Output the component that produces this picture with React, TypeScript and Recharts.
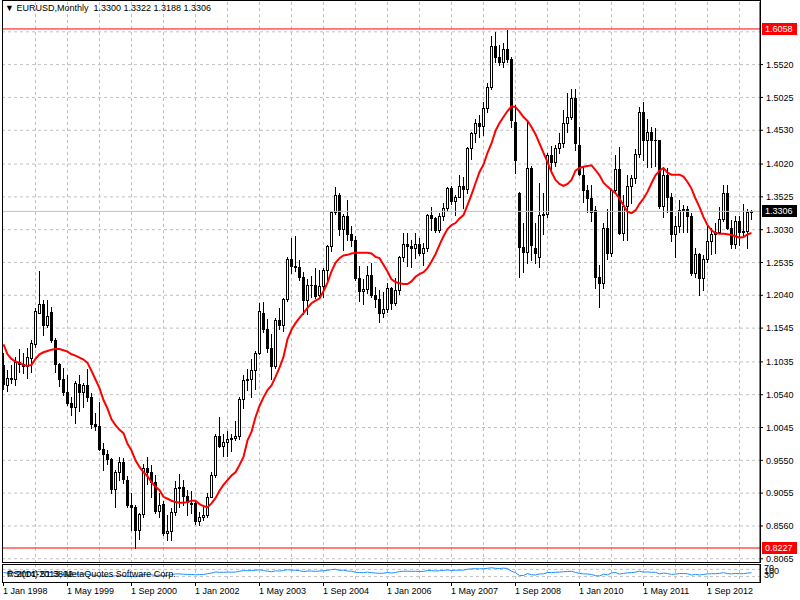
import React from 'react';
import { ComposedChart, LineChart, Bar, Line, XAxis, YAxis, CartesianGrid, ReferenceLine } from 'recharts';

const FONT = '"Liberation Sans", Arial, sans-serif';

// EURUSD monthly, Jan 1998 .. Aug 2013 (one entry per month)
const opens = [
  1.0990, 1.0680, 1.0790, 1.0770, 1.1030, 1.1000, 1.0980, 1.1100, 1.1300, 1.1780, 1.1910, 1.1590,
  1.1790, 1.1370, 1.1000, 1.0770, 1.0580, 1.0420, 1.0350, 1.0700, 1.0580, 1.0690, 1.0510, 1.0100,
  1.0070, 0.9720, 0.9640, 0.9570, 0.9120, 0.9370, 0.9520, 0.9260, 0.8880, 0.8840, 0.8500, 0.8740,
  0.9430, 0.9370, 0.9220, 0.8780, 0.8890, 0.8460, 0.8490, 0.8770, 0.9130, 0.9150, 0.9010, 0.8890,
  0.8910, 0.8630, 0.8700, 0.8720, 0.9000, 0.9330, 0.9920, 0.9770, 0.9820, 0.9870, 0.9890, 0.9920,
  1.0480, 1.0760, 1.0780, 1.0910, 1.1170, 1.1780, 1.1530, 1.1240, 1.0970, 1.1660, 1.1590, 1.1990,
  1.2590, 1.2480, 1.2460, 1.2310, 1.1970, 1.2200, 1.2190, 1.2040, 1.2180, 1.2420, 1.2780, 1.3290,
  1.3560, 1.3040, 1.3240, 1.2960, 1.2870, 1.2300, 1.2100, 1.2130, 1.2340, 1.2040, 1.1990, 1.1780,
  1.1840, 1.2150, 1.1920, 1.2120, 1.2620, 1.2820, 1.2790, 1.2760, 1.2820, 1.2680, 1.2760, 1.3250,
  1.3200, 1.3020, 1.3230, 1.3360, 1.3660, 1.3460, 1.3530, 1.3690, 1.3640, 1.4260, 1.4490, 1.4640,
  1.4600, 1.4870, 1.5180, 1.5800, 1.5640, 1.5560, 1.5760, 1.5610, 1.4650, 1.3580, 1.2770, 1.2690,
  1.3960, 1.2750, 1.2620, 1.3250, 1.3270, 1.4150, 1.4050, 1.4260, 1.4340, 1.4640, 1.4730, 1.5020,
  1.4310, 1.3860, 1.3630, 1.3510, 1.3330, 1.2320, 1.2230, 1.3060, 1.2680, 1.3630, 1.3940, 1.2980,
  1.3380, 1.3690, 1.3810, 1.4170, 1.4810, 1.4390, 1.4500, 1.4390, 1.4380, 1.3390, 1.3860, 1.3520,
  1.2960, 1.3080, 1.3330, 1.3340, 1.3240, 1.2370, 1.2660, 1.2300, 1.2580, 1.2860, 1.2960, 1.2990,
  1.3190, 1.3580, 1.3060, 1.2820, 1.3160, 1.2990, 1.3010, 1.3300,
];
const highs = [
  1.1170, 1.0920, 1.0990, 1.1110, 1.1230, 1.1170, 1.1240, 1.1370, 1.1850, 1.2410, 1.1970, 1.1970,
  1.1860, 1.1400, 1.1020, 1.0940, 1.0840, 1.0500, 1.0750, 1.0840, 1.0720, 1.0930, 1.0570, 1.0270,
  1.0430, 0.9810, 0.9710, 0.9580, 0.9400, 0.9600, 0.9580, 0.9310, 0.9060, 0.8870, 0.8760, 0.9500,
  0.9600, 0.9480, 0.9330, 0.9050, 0.8940, 0.8730, 0.8830, 0.9240, 0.9340, 0.9250, 0.9100, 0.9080,
  0.8950, 0.8770, 0.8840, 0.9050, 0.9370, 0.9950, 1.0200, 0.9950, 1.0000, 0.9950, 1.0150, 1.0500,
  1.0830, 1.0930, 1.1080, 1.1200, 1.1930, 1.1940, 1.1680, 1.1450, 1.1700, 1.1850, 1.2000, 1.2620,
  1.2900, 1.2930, 1.2570, 1.2390, 1.2280, 1.2330, 1.2450, 1.2420, 1.2450, 1.2800, 1.3310, 1.3670,
  1.3590, 1.3260, 1.3480, 1.3090, 1.2940, 1.2480, 1.2290, 1.2480, 1.2530, 1.2170, 1.2120, 1.2090,
  1.2230, 1.2170, 1.2300, 1.2640, 1.2980, 1.2980, 1.2880, 1.2980, 1.2900, 1.2830, 1.3270, 1.3370,
  1.3220, 1.3280, 1.3430, 1.3680, 1.3690, 1.3550, 1.3850, 1.3830, 1.4280, 1.4500, 1.4700, 1.4760,
  1.4960, 1.5240, 1.5950, 1.6010, 1.5820, 1.5850, 1.6040, 1.5640, 1.4910, 1.3600, 1.3130, 1.4680,
  1.3990, 1.3130, 1.3740, 1.3590, 1.4180, 1.4290, 1.4310, 1.4490, 1.4840, 1.5090, 1.5150, 1.5150,
  1.4580, 1.3980, 1.3700, 1.3700, 1.3380, 1.2500, 1.3130, 1.3340, 1.3650, 1.4160, 1.4280, 1.3550,
  1.3860, 1.3860, 1.4250, 1.4880, 1.4960, 1.4700, 1.4580, 1.4560, 1.4390, 1.3960, 1.3960, 1.3580,
  1.3240, 1.3480, 1.3400, 1.3380, 1.3280, 1.2750, 1.2680, 1.2650, 1.3100, 1.3050, 1.3130, 1.3370,
  1.3700, 1.3710, 1.3170, 1.3240, 1.3240, 1.3420, 1.3340, 1.3322,
];
const lows = [
  1.0620, 1.0600, 1.0720, 1.0690, 1.0880, 1.0870, 1.0790, 1.0880, 1.1260, 1.1770, 1.1440, 1.1560,
  1.1330, 1.0880, 1.0670, 1.0540, 1.0380, 1.0240, 1.0110, 1.0290, 1.0350, 1.0440, 1.0040, 1.0010,
  0.9700, 0.9400, 0.9500, 0.9060, 0.8850, 0.9250, 0.9210, 0.8840, 0.8500, 0.8227, 0.8360, 0.8690,
  0.9200, 0.9000, 0.8750, 0.8700, 0.8420, 0.8350, 0.8350, 0.8720, 0.8850, 0.8880, 0.8730, 0.8760,
  0.8590, 0.8580, 0.8650, 0.8700, 0.8990, 0.9300, 0.9750, 0.9610, 0.9610, 0.9690, 0.9850, 0.9870,
  1.0340, 1.0610, 1.0500, 1.0620, 1.1150, 1.1490, 1.1180, 1.0770, 1.0950, 1.1530, 1.1500, 1.1960,
  1.2380, 1.2400, 1.2270, 1.1760, 1.1760, 1.2010, 1.2000, 1.2010, 1.2010, 1.2220, 1.2710, 1.3270,
  1.2950, 1.2730, 1.2880, 1.2780, 1.2270, 1.1950, 1.1910, 1.2080, 1.2010, 1.1870, 1.1640, 1.1710,
  1.1790, 1.1830, 1.1890, 1.2060, 1.2560, 1.2480, 1.2470, 1.2600, 1.2650, 1.2500, 1.2710, 1.3020,
  1.2990, 1.3000, 1.3170, 1.3310, 1.3410, 1.3250, 1.3520, 1.3350, 1.3590, 1.4100, 1.4360, 1.4430,
  1.4460, 1.4800, 1.5150, 1.5560, 1.5510, 1.5480, 1.5560, 1.4580, 1.3890, 1.2320, 1.2390, 1.2530,
  1.2570, 1.2530, 1.2460, 1.2960, 1.3220, 1.3880, 1.3990, 1.4190, 1.4280, 1.4500, 1.4700, 1.4230,
  1.3860, 1.3450, 1.3300, 1.3160, 1.2150, 1.1860, 1.2150, 1.2590, 1.2640, 1.3600, 1.2960, 1.2870,
  1.2870, 1.3430, 1.3740, 1.4130, 1.4080, 1.3980, 1.3970, 1.3990, 1.3360, 1.3220, 1.3300, 1.2860,
  1.2620, 1.2990, 1.2990, 1.3000, 1.2350, 1.2320, 1.2040, 1.2120, 1.2540, 1.2660, 1.2680, 1.2980,
  1.3160, 1.3040, 1.2750, 1.2750, 1.2800, 1.2950, 1.2760, 1.3188,
];
const closes = [
  1.0700, 1.0790, 1.0770, 1.1030, 1.1000, 1.0980, 1.1110, 1.1320, 1.1800, 1.1910, 1.1590, 1.1730,
  1.1370, 1.1000, 1.0770, 1.0580, 1.0420, 1.0350, 1.0720, 1.0580, 1.0690, 1.0510, 1.0100, 1.0070,
  0.9720, 0.9640, 0.9570, 0.9120, 0.9370, 0.9520, 0.9270, 0.8880, 0.8840, 0.8500, 0.8740, 0.9430,
  0.9370, 0.9220, 0.8780, 0.8880, 0.8460, 0.8490, 0.8770, 0.9130, 0.9150, 0.9010, 0.8920, 0.8910,
  0.8630, 0.8700, 0.8720, 0.9000, 0.9330, 0.9920, 0.9770, 0.9820, 0.9870, 0.9890, 0.9920, 1.0480,
  1.0760, 1.0780, 1.0910, 1.1170, 1.1800, 1.1530, 1.1240, 1.0970, 1.1660, 1.1590, 1.1990, 1.2590,
  1.2480, 1.2460, 1.2310, 1.1970, 1.2200, 1.2190, 1.2030, 1.2180, 1.2420, 1.2780, 1.3290, 1.3560,
  1.3040, 1.3240, 1.2960, 1.2870, 1.2300, 1.2100, 1.2130, 1.2340, 1.2040, 1.1990, 1.1780, 1.1840,
  1.2150, 1.1920, 1.2120, 1.2620, 1.2820, 1.2790, 1.2760, 1.2820, 1.2680, 1.2760, 1.3250, 1.3200,
  1.3020, 1.3230, 1.3360, 1.3660, 1.3460, 1.3530, 1.3690, 1.3640, 1.4260, 1.4490, 1.4640, 1.4600,
  1.4870, 1.5180, 1.5800, 1.5640, 1.5560, 1.5760, 1.5610, 1.4680, 1.4080, 1.2770, 1.2690, 1.3960,
  1.2800, 1.2680, 1.3250, 1.3270, 1.4150, 1.4050, 1.4260, 1.4340, 1.4640, 1.4730, 1.5020, 1.4340,
  1.3870, 1.3630, 1.3510, 1.3290, 1.2320, 1.2230, 1.3060, 1.2680, 1.3630, 1.3940, 1.2980, 1.3380,
  1.3690, 1.3810, 1.4170, 1.4810, 1.4390, 1.4500, 1.4390, 1.4380, 1.3390, 1.3860, 1.3520, 1.2960,
  1.3080, 1.3330, 1.3340, 1.3240, 1.2370, 1.2660, 1.2300, 1.2580, 1.2860, 1.2960, 1.2990, 1.3190,
  1.3580, 1.3060, 1.2820, 1.3160, 1.2990, 1.3010, 1.3300, 1.3306,
];
// Moving average (red line)
const maValues = [
  1.1300, 1.1150, 1.1080, 1.1040, 1.1020, 1.0990, 1.0975, 1.0990, 1.1080, 1.1150, 1.1180, 1.1200,
  1.1220, 1.1230, 1.1230, 1.1210, 1.1190, 1.1150, 1.1130, 1.1100, 1.1070, 1.1020, 1.0900, 1.0770,
  1.0640, 1.0460, 1.0330, 1.0170, 1.0080, 1.0010, 0.9960, 0.9800, 0.9700, 0.9550, 0.9450, 0.9370,
  0.9310, 0.9220, 0.9150, 0.9100, 0.9000, 0.8970, 0.8940, 0.8920, 0.8910, 0.8910, 0.8920, 0.8940,
  0.8940, 0.8890, 0.8860, 0.8840, 0.8900, 0.8980, 0.9090, 0.9180, 0.9250, 0.9320, 0.9370, 0.9480,
  0.9600, 0.9850, 0.9980, 1.0200, 1.0370, 1.0500, 1.0610, 1.0680, 1.0810, 1.0950, 1.1110, 1.1380,
  1.1520, 1.1620, 1.1700, 1.1770, 1.1850, 1.1920, 1.1960, 1.1990, 1.2100, 1.2230, 1.2400, 1.2530,
  1.2600, 1.2640, 1.2650, 1.2670, 1.2680, 1.2680, 1.2680, 1.2680, 1.2670, 1.2620, 1.2600, 1.2500,
  1.2400, 1.2280, 1.2240, 1.2220, 1.2210, 1.2210, 1.2250, 1.2320, 1.2360, 1.2390, 1.2450, 1.2550,
  1.2660, 1.2800, 1.2930, 1.3040, 1.3100, 1.3130, 1.3200, 1.3250, 1.3400, 1.3560, 1.3730, 1.3900,
  1.4010, 1.4190, 1.4330, 1.4520, 1.4640, 1.4730, 1.4820, 1.4890, 1.4880, 1.4810, 1.4730, 1.4670,
  1.4580, 1.4470, 1.4330, 1.4190, 1.4050, 1.3900, 1.3780, 1.3720, 1.3690, 1.3720, 1.3780, 1.3920,
  1.3960, 1.3980, 1.3990, 1.4000, 1.3930, 1.3850, 1.3740, 1.3680, 1.3630, 1.3580, 1.3500, 1.3400,
  1.3300, 1.3280, 1.3320, 1.3420, 1.3500, 1.3600, 1.3730, 1.3850, 1.3920, 1.3960, 1.3890, 1.3860,
  1.3860, 1.3860, 1.3830, 1.3750, 1.3650, 1.3500, 1.3370, 1.3220, 1.3100, 1.3020, 1.2980, 1.2970,
  1.2970, 1.2960, 1.2950, 1.2930, 1.2910, 1.2920, 1.2960, 1.2980,
];
// RSI(14) (blue line in the lower window)
const rsiValues = [
  52, 50, 50, 52, 51, 51, 52, 53, 57, 58, 55, 56,
  52, 47, 44, 42, 40, 40, 45, 43, 45, 43, 38, 37,
  34, 33, 33, 31, 35, 37, 34, 31, 31, 29, 33, 42,
  41, 40, 36, 39, 35, 37, 41, 45, 45, 43, 42, 42,
  40, 41, 42, 46, 50, 56, 54, 54, 55, 55, 55, 60,
  63, 63, 64, 65, 68, 64, 60, 57, 62, 61, 64, 68,
  66, 65, 63, 58, 61, 61, 59, 61, 62, 65, 69, 71,
  64, 66, 61, 60, 54, 52, 52, 55, 52, 50, 48, 49,
  53, 50, 53, 58, 60, 60, 59, 60, 58, 59, 64, 63,
  61, 63, 64, 67, 64, 65, 66, 66, 71, 73, 74, 73,
  74, 76, 79, 76, 75, 77, 75, 60, 52, 36, 36, 47,
  40, 39, 45, 45, 53, 52, 54, 55, 57, 58, 60, 53,
  48, 45, 44, 42, 35, 34, 43, 40, 50, 53, 44, 48,
  51, 52, 55, 60, 55, 56, 54, 54, 45, 50, 47, 42,
  44, 47, 47, 46, 39, 42, 39, 42, 45, 46, 46, 48,
  52, 47, 45, 48, 46, 46, 50, 51.38,
];

const priceTicks = [1.552, 1.5025, 1.453, 1.402, 1.3525, 1.303, 1.2535, 1.204, 1.1545, 1.1035, 1.054, 1.0045, 0.955, 0.9055, 0.856, 0.8065];
const gridPrices = [1.6015, ...priceTicks];
const xTickBars = [0, 16, 32, 48, 64, 80, 96, 112, 128, 144, 160, 176];
const xTickLabels = ['1 Jan 1998', '1 May 1999', '1 Sep 2000', '1 Jan 2002', '1 May 2003', '1 Sep 2004', '1 Jan 2006', '1 May 2007', '1 Sep 2008', '1 Jan 2010', '1 May 2011', '1 Sep 2012'];
const gridBars = [8, 16, 24, 32, 40, 48, 56, 64, 72, 80, 88, 96, 104, 112, 120, 128, 136, 144, 152, 160, 168, 176, 184];
const rsiLevels = [70, 30];
const rsiTickValues = [100, 70, 30];
const highLine = 1.6058;
const lowLine = 0.8227;
const lastPrice = 1.3306;

const X_DOMAIN: [number, number] = [-0.375, 189.125];
const Y_DOMAIN: [number, number] = [0.8016, 1.6465];

const data = opens.map((o, i) => ({
  i,
  o,
  h: highs[i],
  l: lows[i],
  c: closes[i],
  range: [lows[i], highs[i]],
  ma: maValues[i],
  rsi: rsiValues[i],
}));

const Candle = (props: any) => {
  const { x, y, width, height, payload } = props;
  if (x == null || y == null || !payload) return null;
  const top = Math.min(y, y + height);
  const hgt = Math.abs(height);
  const cx = Math.round(x + width / 2 - 0.5) + 0.5;
  const span = payload.h - payload.l;
  const py = (v: number) => (span > 0 ? top + ((payload.h - v) / span) * hgt : top);
  const yo = py(payload.o);
  const yc = py(payload.c);
  const bTop = Math.round(Math.min(yo, yc)) + 0.5;
  const bBot = Math.round(Math.max(yo, yc)) + 0.5;
  const bull = payload.c >= payload.o;
  return (
    <g>
      <line x1={cx} x2={cx} y1={Math.round(top)} y2={Math.round(top + hgt) + 1} stroke="#000" strokeWidth={1} />
      {bBot - bTop < 1 ? (
        <line x1={cx - 1.5} x2={cx + 1.5} y1={bTop} y2={bTop} stroke="#000" strokeWidth={1} />
      ) : (
        <rect x={cx - 1} y={bTop} width={2} height={bBot - bTop} fill={bull ? '#fff' : '#000'} stroke="#000" strokeWidth={1} />
      )}
    </g>
  );
};

const PriceTag = (props: any) => {
  const { viewBox, text, bg } = props;
  if (!viewBox) return null;
  const x = viewBox.x + viewBox.width + 2;
  const y = Math.round(viewBox.y);
  return (
    <g>
      <rect x={x} y={y - 6} width={35} height={12} fill={bg} />
      <text x={x + 3} y={y} dy="0.36em" fontSize={9} fontFamily={FONT} fill="#fff">{text}</text>
    </g>
  );
};

const XTick = (props: any) => {
  const { x, y, payload } = props;
  const idx = xTickBars.indexOf(payload.value);
  return (
    <text x={x - 0.5} y={y} dy="0.75em" fontSize={9} fontFamily={FONT} fill="#000" textAnchor="start">
      {idx >= 0 ? xTickLabels[idx] : ''}
    </text>
  );
};

const RsiTick = (props: any) => {
  const { x, y, payload } = props;
  const off = payload.value === 100 ? 6.5 : payload.value === 70 ? -1.5 : -2;
  return (
    <text x={x} y={y + off} dy="0.36em" fontSize={9} fontFamily={FONT} fill="#000" textAnchor="start">
      {String(payload.value)}
    </text>
  );
};

export default function App() {
  return (
    <div style={{ position: 'absolute', left: 0, top: 0, width: 800, height: 600, background: '#fff', overflow: 'hidden', fontFamily: FONT }}>
      <div style={{ position: 'absolute', left: 0, top: 0 }}>
        <ComposedChart width={800} height={572} data={data} margin={{ top: 2, right: 0, bottom: 10, left: 2 }}>
          <CartesianGrid stroke="#c0c0c0" strokeDasharray="3 3" horizontalValues={gridPrices} verticalValues={gridBars} />
          <XAxis dataKey="i" type="number" domain={X_DOMAIN} allowDataOverflow hide />
          <YAxis
            orientation="right"
            width={40}
            domain={Y_DOMAIN}
            allowDataOverflow
            ticks={priceTicks}
            interval={0}
            tickFormatter={(v: number) => v.toFixed(4)}
            tick={{ fontSize: 9, fill: '#000', fontFamily: FONT }}
            tickSize={3}
            tickMargin={3}
            axisLine={{ stroke: '#000' }}
            tickLine={{ stroke: '#000' }}
          />
          <ReferenceLine y={lastPrice} stroke="#c0c0c0" strokeWidth={1} label={<PriceTag text={lastPrice.toFixed(4)} bg="#000" />} />
          <Bar dataKey="range" barSize={3} shape={<Candle />} isAnimationActive={false} />
          <Line dataKey="ma" type="linear" stroke="#ff0000" strokeWidth={2} dot={false} isAnimationActive={false} />
          <ReferenceLine y={highLine} stroke="#ff0000" strokeWidth={1} label={<PriceTag text={highLine.toFixed(4)} bg="#ff0000" />} />
          <ReferenceLine y={lowLine} stroke="#ff0000" strokeWidth={1} label={<PriceTag text={lowLine.toFixed(4)} bg="#ff0000" />} />
        </ComposedChart>
      </div>
      <div style={{ position: 'absolute', left: 2, top: 0, width: 759, height: 563, border: '1px solid #000', boxSizing: 'border-box', pointerEvents: 'none' }} />
      <div style={{ position: 'absolute', left: 5, top: 2, fontSize: 9, lineHeight: '12px', color: '#000', whiteSpace: 'pre' }}>
        {'▼ EURUSD,Monthly  1.3300 1.3322 1.3188 1.3306'}
      </div>
      <div style={{ position: 'absolute', left: 0, top: 563, background: 'transparent' }}>
        <LineChart width={800} height={37} data={data} margin={{ top: 1, right: 0, bottom: 0, left: 2 }}>
          <CartesianGrid stroke="#c0c0c0" strokeDasharray="3 3" horizontalValues={rsiLevels} verticalValues={gridBars} />
          <XAxis
            dataKey="i"
            type="number"
            domain={X_DOMAIN}
            allowDataOverflow
            ticks={xTickBars}
            interval={0}
            height={18}
            tickSize={4}
            tickMargin={1}
            axisLine={false}
            tickLine={{ stroke: '#000' }}
            tick={<XTick />}
          />
          <YAxis
            orientation="right"
            width={40}
            domain={[0, 100]}
            allowDataOverflow
            ticks={rsiTickValues}
            interval={0}
            tickSize={2}
            tickMargin={2}
            axisLine={{ stroke: '#000' }}
            tickLine={false}
            tick={<RsiTick />}
          />
          <Line dataKey="rsi" type="linear" stroke="#1e90ff" strokeWidth={1} dot={false} isAnimationActive={false} />
        </LineChart>
      </div>
      <div style={{ position: 'absolute', left: 2, top: 564, width: 759, height: 19, border: '1px solid #000', boxSizing: 'border-box', pointerEvents: 'none' }} />
      <div style={{ position: 'absolute', left: 7, top: 568, fontSize: 9, lineHeight: '12px', color: '#000', whiteSpace: 'pre' }}>RSI(14) 51.3802</div>
      <div style={{ position: 'absolute', left: 7, top: 568, fontSize: 9, lineHeight: '12px', color: '#000', whiteSpace: 'pre' }}>© 2001-2013, MetaQuotes Software Corp.</div>
    </div>
  );
}
